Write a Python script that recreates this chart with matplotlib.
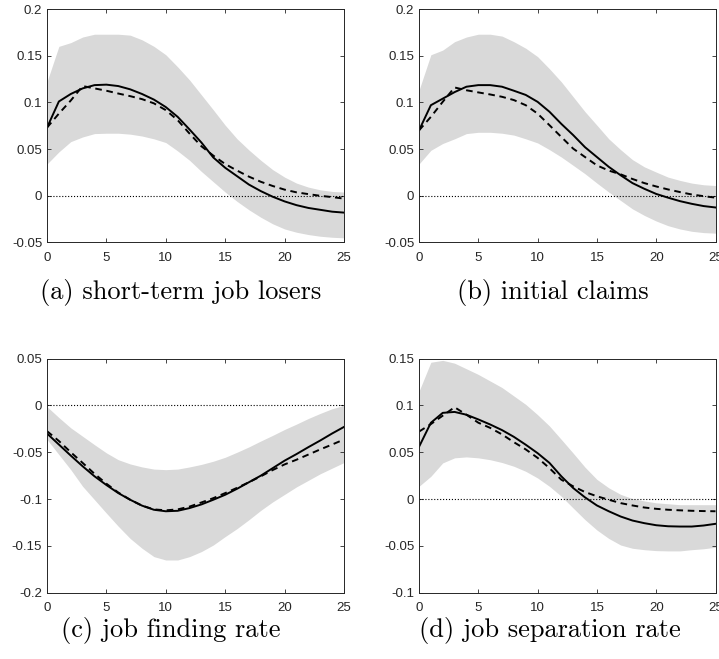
import numpy as np
from matplotlib import pyplot as plt

plt.rcParams['font.family'] = ['Liberation Sans', 'DejaVu Sans']

horizon = np.arange(26)

# (a) short-term job losers
a_solid = [0.073, 0.101, 0.109, 0.115, 0.1185, 0.119, 0.1175, 0.114, 0.109, 0.103, 0.095, 0.0845, 0.071,
           0.057, 0.041, 0.030, 0.021, 0.012, 0.005, -0.001, -0.006, -0.010, -0.013, -0.015, -0.017, -0.018]
a_dashed = [0.073, 0.088, 0.102, 0.1175, 0.115, 0.1125, 0.1095, 0.1067, 0.1035, 0.099, 0.0917, 0.081, 0.0666,
            0.053, 0.043, 0.034, 0.027, 0.0205, 0.015, 0.0105, 0.0066, 0.0037, 0.0018, 0.0, -0.0014, -0.003]
a_upper = [0.122, 0.160, 0.164, 0.170, 0.173, 0.173, 0.173, 0.172, 0.167, 0.160, 0.151, 0.138, 0.124,
           0.108, 0.092, 0.0756, 0.061, 0.049, 0.038, 0.028, 0.020, 0.0136, 0.0093, 0.0064, 0.0047, 0.004]
a_lower = [0.034, 0.047, 0.058, 0.063, 0.0666, 0.067, 0.067, 0.066, 0.064, 0.061, 0.057, 0.048, 0.038,
           0.026, 0.015, 0.004, -0.006, -0.015, -0.023, -0.030, -0.0355, -0.039, -0.0415, -0.0433, -0.0444, -0.045]

# (b) initial claims
b_solid = [0.070, 0.097, 0.104, 0.111, 0.1168, 0.1185, 0.1185, 0.1168, 0.1125, 0.108, 0.1006, 0.090, 0.077,
           0.065, 0.052, 0.0415, 0.031, 0.022, 0.0136, 0.0075, 0.002, -0.002, -0.0057, -0.0086, -0.011, -0.0125]
b_dashed = [0.070, 0.0845, 0.1006, 0.116, 0.113, 0.1107, 0.1085, 0.106, 0.1025, 0.097, 0.088, 0.0756, 0.063,
            0.0505, 0.0415, 0.0326, 0.027, 0.023, 0.018, 0.0136, 0.010, 0.0068, 0.004, 0.0014, -0.0004, -0.002]
b_upper = [0.113, 0.151, 0.156, 0.165, 0.170, 0.173, 0.173, 0.171, 0.165, 0.158, 0.149, 0.136, 0.122,
           0.106, 0.090, 0.0756, 0.061, 0.0494, 0.0387, 0.031, 0.0254, 0.020, 0.0165, 0.0136, 0.0118, 0.011]
b_lower = [0.034, 0.0487, 0.056, 0.061, 0.0666, 0.068, 0.068, 0.067, 0.065, 0.061, 0.0566, 0.0494, 0.0415,
           0.0326, 0.0236, 0.0136, 0.004, -0.005, -0.014, -0.021, -0.027, -0.032, -0.0355, -0.038, -0.0394, -0.040]

# (c) job finding rate
c_solid = [-0.030, -0.0418, -0.0536, -0.065, -0.0757, -0.085, -0.0936, -0.1007, -0.107, -0.1114, -0.113,
           -0.1125, -0.1096, -0.1057, -0.1007, -0.0954, -0.089, -0.082, -0.075, -0.067, -0.059, -0.052,
           -0.0446, -0.0375, -0.030, -0.023]
c_dashed = [-0.0275, -0.038, -0.050, -0.0614, -0.073, -0.0836, -0.093, -0.1007, -0.107, -0.111, -0.112,
            -0.111, -0.108, -0.1036, -0.099, -0.0936, -0.088, -0.082, -0.0757, -0.069, -0.063, -0.058,
            -0.0525, -0.047, -0.0418, -0.0364]
c_upper = [-0.0014, -0.013, -0.024, -0.033, -0.042, -0.0507, -0.058, -0.0625, -0.0657, -0.068, -0.0686,
           -0.068, -0.0657, -0.063, -0.0596, -0.0554, -0.050, -0.0443, -0.038, -0.032, -0.0257, -0.020,
           -0.014, -0.0086, -0.0036, 0.0]
c_lower = [-0.0364, -0.0525, -0.0686, -0.0864, -0.1007, -0.115, -0.129, -0.142, -0.1525, -0.1614, -0.165,
           -0.165, -0.1614, -0.156, -0.149, -0.140, -0.1315, -0.122, -0.112, -0.103, -0.095, -0.087,
           -0.080, -0.073, -0.067, -0.061]

# (d) job separation rate
d_solid = [0.0557, 0.0814, 0.092, 0.093, 0.090, 0.085, 0.0796, 0.0736, 0.0664, 0.058, 0.049, 0.0386, 0.0243,
           0.0118, 0.0018, -0.0068, -0.013, -0.0186, -0.0229, -0.0257, -0.0279, -0.029, -0.0293, -0.0293,
           -0.0282, -0.0264]
d_dashed = [0.072, 0.080, 0.089, 0.098, 0.090, 0.0815, 0.076, 0.069, 0.0607, 0.053, 0.044, 0.033, 0.0207,
            0.0136, 0.0075, 0.003, -0.0007, -0.0043, -0.0068, -0.009, -0.0104, -0.0114, -0.012, -0.0125,
            -0.0128, -0.013]
d_upper = [0.115, 0.146, 0.148, 0.145, 0.139, 0.133, 0.126, 0.119, 0.110, 0.101, 0.090, 0.078, 0.0636,
           0.049, 0.034, 0.021, 0.012, 0.005, 0.0005, -0.002, -0.004, -0.005, -0.006, -0.006, -0.006, -0.006]
d_lower = [0.0136, 0.0243, 0.0386, 0.044, 0.045, 0.044, 0.042, 0.039, 0.035, 0.0296, 0.0225, 0.0136, 0.003,
           -0.0096, -0.022, -0.033, -0.042, -0.049, -0.0525, -0.054, -0.055, -0.0553, -0.0553, -0.054,
           -0.053, -0.0514]

captions = ['(a) short-term job losers', '(b) initial claims', '(c) job finding rate', '(d) job separation rate']

x_ticks = [0, 5, 10, 15, 20, 25]
top_yticks = [-0.05, 0, 0.05, 0.1, 0.15, 0.2]
top_ylabels = ['-0.05', '0', '0.05', '0.1', '0.15', '0.2']
c_yticks = [-0.2, -0.15, -0.1, -0.05, 0, 0.05]
c_ylabels = ['-0.2', '-0.15', '-0.1', '-0.05', '0', '0.05']
d_yticks = [-0.1, -0.05, 0, 0.05, 0.1, 0.15]
d_ylabels = ['-0.1', '-0.05', '0', '0.05', '0.1', '0.15']

W, H = 719, 659
fig = plt.figure(figsize=(W / 100, H / 100), dpi=100)

# pixel boxes: left, top, right, bottom
boxes = [(47, 9, 344, 242.5), (419, 9, 715.5, 242.5), (47, 358.5, 344, 592.8), (419, 358.5, 715.5, 592.8)]
panels = [
    (a_solid, a_dashed, a_upper, a_lower, top_yticks, top_ylabels),
    (b_solid, b_dashed, b_upper, b_lower, top_yticks, top_ylabels),
    (c_solid, c_dashed, c_upper, c_lower, c_yticks, c_ylabels),
    (d_solid, d_dashed, d_upper, d_lower, d_yticks, d_ylabels),
]
cap_pos = [(181, 299), (553, 299), (171, 637), (550, 637)]
axis_col = '#262626'

for box, (solid, dashed, upper, lower, yt, yl), cap, (cx, cy) in zip(boxes, panels, captions, cap_pos):
    l, t, r, b = box
    ax = fig.add_axes([l / W, 1 - b / H, (r - l) / W, (b - t) / H])
    ax.fill_between(horizon, lower, upper, color='#d9d9d9', linewidth=0)
    ax.axhline(0, color='black', linestyle=':', linewidth=0.8)
    ax.plot(horizon, solid, color='black', linewidth=1.4)
    ax.plot(horizon, dashed, color='black', linewidth=1.4, linestyle=(0, (3.4, 2.4)))
    ax.set_xlim(0, 25)
    ax.set_ylim(yt[0], yt[-1])
    ax.set_xticks(x_ticks)
    ax.set_xticklabels([str(v) for v in x_ticks])
    ax.set_yticks(yt)
    ax.set_yticklabels(yl)
    ax.tick_params(direction='in', top=True, right=True, length=3, width=0.6,
                   labelsize=9.5, colors=axis_col)
    ax.tick_params(axis='x', pad=6.5)
    ax.tick_params(axis='y', pad=3.5)
    for s in ax.spines.values():
        s.set_color(axis_col)
        s.set_linewidth(0.7)
    fig.text(cx / W, 1 - cy / H, cap, family='cmr10', fontsize=19, ha='center', va='baseline')

plt.savefig('out.png', dpi=100)
